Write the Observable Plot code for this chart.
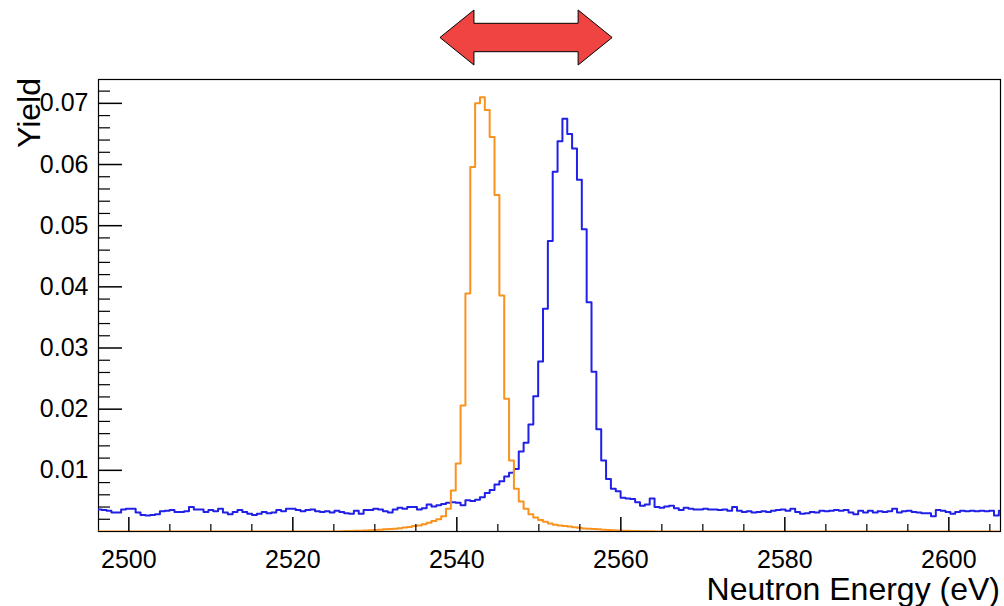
<!DOCTYPE html>
<html>
<head>
<meta charset="utf-8">
<script src="https://cdn.jsdelivr.net/npm/d3@7"></script>
<script src="https://cdn.jsdelivr.net/npm/@observablehq/plot@0.6"></script>
<style>
  html, body { margin: 0; padding: 0; background: #fff; }
  #chart { width: 1004px; height: 606px; }
</style>
</head>
<body>
<div id="chart"></div>
<script>
// Histogram binning (187 bins of ~0.591 eV)
const binStart = 2496.1;
const binWidth = 0.5914;

// Blue histogram (broad peak near 2553 eV plus flat background)
const blueYield = [
  0.0036, 0.0035, 0.0034, 0.0031, 0.0031, 0.0036, 0.0037, 0.0037, 0.0031, 0.0027,
  0.0026, 0.0027, 0.0028, 0.0033, 0.0034, 0.0035, 0.0032, 0.0032, 0.0033, 0.0040,
  0.0036, 0.0036, 0.0032, 0.0035, 0.0033, 0.0037, 0.0031, 0.0028, 0.0032, 0.0035,
  0.0032, 0.0029, 0.0027, 0.0029, 0.0032, 0.0030, 0.0031, 0.0035, 0.0033, 0.0037,
  0.0037, 0.0035, 0.0033, 0.0035, 0.0036, 0.0033, 0.0032, 0.0033, 0.0031, 0.0034,
  0.0032, 0.0030, 0.0029, 0.0034, 0.0029, 0.0035, 0.0035, 0.0037, 0.0036, 0.0033,
  0.0031, 0.0036, 0.0039, 0.0037, 0.0040, 0.0040, 0.0036, 0.0038, 0.0044, 0.0041,
  0.0043, 0.0045, 0.0047, 0.0048, 0.0047, 0.0043, 0.0051, 0.0050, 0.0052, 0.0056,
  0.0063, 0.0068, 0.0077, 0.0082, 0.0090, 0.0096, 0.0102, 0.0131, 0.0145, 0.0175,
  0.0221, 0.0278, 0.0364, 0.0475, 0.0588, 0.0638, 0.0675, 0.0650, 0.0626, 0.0575,
  0.0494, 0.0375, 0.0261, 0.0167, 0.0116, 0.0086, 0.0070, 0.0066, 0.0055, 0.0054,
  0.0053, 0.0048, 0.0042, 0.0044, 0.0054, 0.0040, 0.0039, 0.0041, 0.0042, 0.0038,
  0.0035, 0.0039, 0.0037, 0.0036, 0.0036, 0.0037, 0.0036, 0.0036, 0.0035, 0.0036,
  0.0034, 0.0040, 0.0034, 0.0032, 0.0033, 0.0031, 0.0032, 0.0033, 0.0032, 0.0034,
  0.0035, 0.0036, 0.0034, 0.0037, 0.0032, 0.0029, 0.0030, 0.0032, 0.0031, 0.0034,
  0.0033, 0.0034, 0.0035, 0.0034, 0.0035, 0.0031, 0.0028, 0.0034, 0.0031, 0.0034,
  0.0031, 0.0033, 0.0032, 0.0033, 0.0037, 0.0031, 0.0033, 0.0034, 0.0032, 0.0031,
  0.0030, 0.0030, 0.0025, 0.0035, 0.0034, 0.0032, 0.0029, 0.0032, 0.0034, 0.0033,
  0.0034, 0.0033, 0.0034, 0.0033, 0.0034, 0.0026, 0.0034
];

// Orange histogram (narrow peak near 2543 eV, no background)
const orangeYield = [
  0, 0, 0, 0, 0, 0, 0, 0, 0, 0,
  0, 0, 0, 0, 0, 0, 0, 0, 0, 0,
  0, 0, 0, 0, 0, 0, 0, 0, 0, 0,
  0, 0, 0, 0, 0, 0, 0, 0, 0, 0,
  0, 0, 0, 0, 0, 0, 0, 0, 0, 0,
  0.00005, 0.00007, 0.00009, 0.00011, 0.00014, 0.00017, 0.0002, 0.00025, 0.0003, 0.00035,
  0.0004, 0.00047, 0.00055, 0.00065, 0.00075, 0.00088, 0.0010, 0.0012, 0.00145, 0.0017,
  0.0020, 0.0025, 0.0037, 0.0067, 0.0111, 0.0206, 0.0389, 0.0596, 0.0700, 0.0710,
  0.0689, 0.0645, 0.0550, 0.0386, 0.0217, 0.0116, 0.0070, 0.0049, 0.0037, 0.0028,
  0.0023, 0.0019, 0.0016, 0.0013, 0.0011, 0.0010, 0.0009, 0.0008, 0.0007, 0.0006,
  0.0005, 0.00045, 0.0004, 0.00035, 0.0003, 0.00025, 0.0002, 0.00017, 0.00014, 0.00011,
  0.00009, 0.00007, 0.00005, 0.00004, 0.00003, 0.00002, 0, 0, 0, 0,
  0, 0, 0, 0, 0, 0, 0, 0, 0, 0,
  0, 0, 0, 0, 0, 0, 0, 0, 0, 0,
  0, 0, 0, 0, 0, 0, 0, 0, 0, 0,
  0, 0, 0, 0, 0, 0, 0, 0, 0, 0,
  0, 0, 0, 0, 0, 0, 0, 0, 0, 0,
  0, 0, 0, 0, 0, 0, 0, 0, 0, 0,
  0, 0, 0, 0, 0, 0, 0
];

const xDomain = [2496.3, 2606.3];
const yDomain = [0, 0.0739];
const xTicksMajor = [2500, 2520, 2540, 2560, 2580, 2600];
const xTicksMinor = [2505, 2510, 2515, 2525, 2530, 2535, 2545, 2550, 2555, 2565, 2570, 2575, 2585, 2590, 2595, 2605];
const yTicksMajor = [0.01, 0.02, 0.03, 0.04, 0.05, 0.06, 0.07];
const yTicksMinor = [0.002, 0.004, 0.006, 0.008, 0.012, 0.014, 0.016, 0.018, 0.022, 0.024, 0.026, 0.028,
  0.032, 0.034, 0.036, 0.038, 0.042, 0.044, 0.046, 0.048, 0.052, 0.054, 0.056, 0.058,
  0.062, 0.064, 0.066, 0.068, 0.072];
const xTitle = "Neutron Energy (eV)";
const yTitle = "Yield";
const arrowSpan = [2538, 2559];

function stepPoints(values) {
  const pts = [];
  values.forEach((v, i) => {
    const x0 = binStart + i * binWidth;
    pts.push({x: x0, y: v}, {x: x0 + binWidth, y: v});
  });
  return pts;
}

const W = 1004, H = 606, mL = 98, mR = 4, mT = 79, mB = 75;
const innerW = W - mL - mR, innerH = H - mT - mB;
const font = "'Liberation Sans', Arial, Helvetica, sans-serif";

const plot = Plot.plot({
  width: W, height: H,
  marginLeft: mL, marginRight: mR, marginTop: mT, marginBottom: mB,
  x: {domain: xDomain},
  y: {domain: yDomain},
  style: {fontFamily: font, fontSize: "25px", background: "#fff", color: "#000", overflow: "visible"},
  marks: [
    Plot.frame({stroke: "#000", strokeWidth: 1.2}),
    Plot.line(stepPoints(blueYield), {x: "x", y: "y", stroke: "#2020e6", strokeWidth: 2, clip: true}),
    Plot.line(stepPoints(orangeYield), {x: "x", y: "y", stroke: "#f7931e", strokeWidth: 2, clip: true}),
    Plot.tickX(xTicksMajor, {x: d => d, insetTop: innerH - 14, stroke: "#000", strokeWidth: 1.5}),
    Plot.tickX(xTicksMinor, {x: d => d, insetTop: innerH - 7, stroke: "#000", strokeWidth: 1.2}),
    Plot.tickY(yTicksMajor, {y: d => d, insetRight: innerW - 24, stroke: "#000", strokeWidth: 1.5}),
    Plot.tickY(yTicksMinor, {y: d => d, insetRight: innerW - 12, stroke: "#000", strokeWidth: 1.2}),
    Plot.axisX(xTicksMajor, {tickSize: 0, tickPadding: 19, tickFormat: d => String(d), label: null, fontSize: 25}),
    Plot.axisY(yTicksMajor, {tickSize: 0, tickPadding: 10, tickFormat: d3.format(".2f"), label: null, fontSize: 25})
  ]
});

const svg = d3.select(plot);
svg.append("text")
  .attr("x", 1000).attr("y", 600)
  .attr("text-anchor", "end")
  .attr("font-size", 32)
  .attr("font-family", font)
  .attr("fill", "#000")
  .text(xTitle);
svg.append("text")
  .attr("transform", "translate(40,78) rotate(-90)")
  .attr("text-anchor", "end")
  .attr("font-size", 32)
  .attr("font-family", font)
  .attr("fill", "#000")
  .text(yTitle);

// Double-headed arrow annotation positioned with the x scale
const xs = plot.scale("x");
const a0 = xs.apply(arrowSpan[0]), a1 = xs.apply(arrowSpan[1]);
const cy = 37.5, headHalf = 27.5, shaftHalf = 14.2, headLen = 34;
const pts = [
  [a0, cy], [a0 + headLen, cy - headHalf], [a0 + headLen, cy - shaftHalf],
  [a1 - headLen, cy - shaftHalf], [a1 - headLen, cy - headHalf], [a1, cy],
  [a1 - headLen, cy + headHalf], [a1 - headLen, cy + shaftHalf],
  [a0 + headLen, cy + shaftHalf], [a0 + headLen, cy + headHalf]
];
svg.append("polygon")
  .attr("points", pts.map(p => p.join(",")).join(" "))
  .attr("fill", "#f04443")
  .attr("stroke", "#000")
  .attr("stroke-width", 1);

document.getElementById("chart").appendChild(plot);
</script>
</body>
</html>
